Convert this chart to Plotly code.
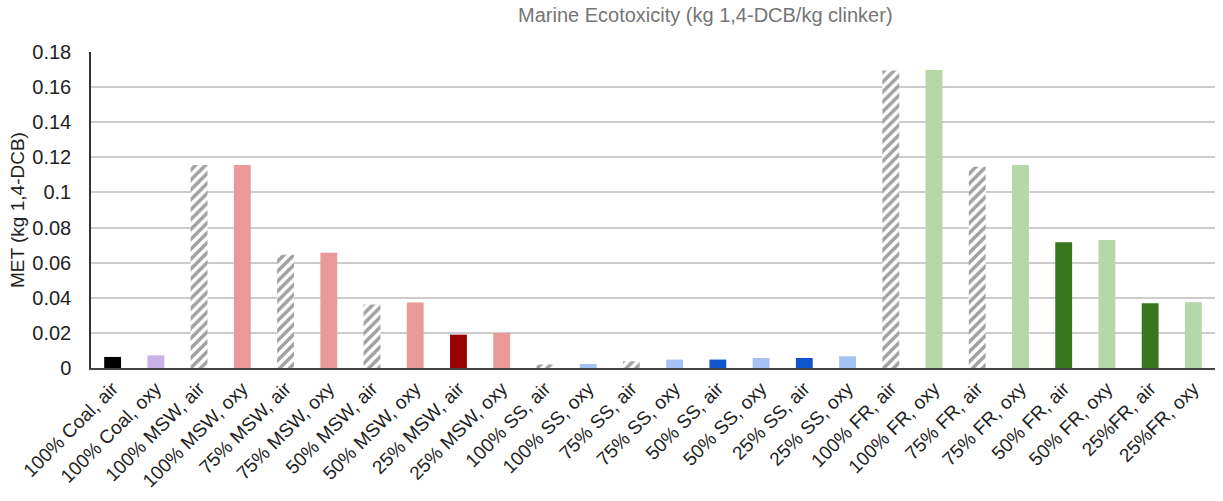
import plotly.graph_objects as go

# Scenarios and marine ecotoxicity results (kg 1,4-DCB per kg clinker)
categories = [
    "100% Coal, air", "100% Coal, oxy",
    "100% MSW, air", "100% MSW, oxy",
    "75% MSW, air", "75% MSW, oxy",
    "50% MSW, air", "50% MSW, oxy",
    "25% MSW, air", "25% MSW, oxy",
    "100% SS, air", "100% SS, oxy",
    "75% SS, air", "75% SS, oxy",
    "50% SS, air", "50% SS, oxy",
    "25% SS, air", "25% SS, oxy",
    "100% FR, air", "100% FR, oxy",
    "75% FR, air", "75% FR, oxy",
    "50% FR, air", "50% FR, oxy",
    "25%FR, air", "25%FR, oxy",
]
met_values = [
    0.0063, 0.0072,
    0.1157, 0.1157,
    0.0645, 0.0656,
    0.0362, 0.0373,
    0.0190, 0.0200,
    0.0020, 0.0023,
    0.0038, 0.0048,
    0.0048, 0.0057,
    0.0057, 0.0067,
    0.1695, 0.1697,
    0.1147, 0.1157,
    0.0717, 0.0729,
    0.0369, 0.0375,
]
hatched = [
    False, False,
    True, False, True, False, True, False, False, False,
    True, False, True, False, False, False, False, False,
    True, False, True, False, False, False, False, False,
]
y_ticks = [0, 0.02, 0.04, 0.06, 0.08, 0.1, 0.12, 0.14, 0.16, 0.18]
y_tick_labels = ["0", "0.02", "0.04", "0.06", "0.08", "0.1", "0.12", "0.14", "0.16", "0.18"]

# Bar fill colours per scenario
fill = [
    "#000000", "#c9b3e6",
    "#ffffff", "#ea9999", "#ffffff", "#ea9999", "#ffffff", "#ea9999", "#990000", "#ea9999",
    "#ffffff", "#a4c2f4", "#ffffff", "#a4c2f4", "#1155cc", "#a4c2f4", "#1155cc", "#a4c2f4",
    "#ffffff", "#b6d7a8", "#ffffff", "#b6d7a8", "#38761d", "#b6d7a8", "#38761d", "#b6d7a8",
]
shapes = ["/" if h else "" for h in hatched]

fig = go.Figure(
    go.Bar(
        x=categories,
        y=met_values,
        marker=dict(
            color=fill,
            line=dict(width=0),
            pattern=dict(shape=shapes, fgcolor="#9e9e9e", bgcolor="#ffffff",
                         size=7, solidity=0.5, fillmode="overlay"),
        ),
        width=0.39,
        hoverinfo="x+y",
    )
)

fig.update_layout(
    width=1223,
    height=501,
    margin=dict(l=91, r=8, t=52, b=133),
    paper_bgcolor="#ffffff",
    plot_bgcolor="#ffffff",
    showlegend=False,
    font=dict(family="Liberation Sans, Arial, sans-serif", size=20, color="#222222"),
    annotations=[
        dict(text="Marine Ecotoxicity (kg 1,4-DCB/kg clinker)",
             xref="paper", yref="paper", x=(705 - 91) / (1215 - 91), y=1,
             yshift=37, xanchor="center", yanchor="middle", showarrow=False,
             font=dict(size=20, color="#757575")),
        dict(text="MET (kg 1,4-DCB)",
             xref="paper", yref="paper", x=0, y=0.5, xshift=-74,
             xanchor="center", yanchor="middle", textangle=-90, showarrow=False,
             font=dict(size=19, color="#222222")),
    ],
)

fig.update_xaxes(
    type="category",
    tickangle=-45,
    showgrid=False,
    showline=True,
    linecolor="#444444",
    linewidth=2,
    ticks="",
    tickfont=dict(size=19, color="#222222"),
)
fig.update_yaxes(
    range=[0, 0.18],
    tickvals=y_ticks,
    ticktext=y_tick_labels,
    showgrid=True,
    gridcolor="#cccccc",
    gridwidth=1.5,
    zeroline=False,
    showline=True,
    linecolor="#333333",
    linewidth=1.5,
    ticks="",
    ticklabelstandoff=14,
    tickfont=dict(size=20, color="#222222"),
)

fig.write_html("out.html")
